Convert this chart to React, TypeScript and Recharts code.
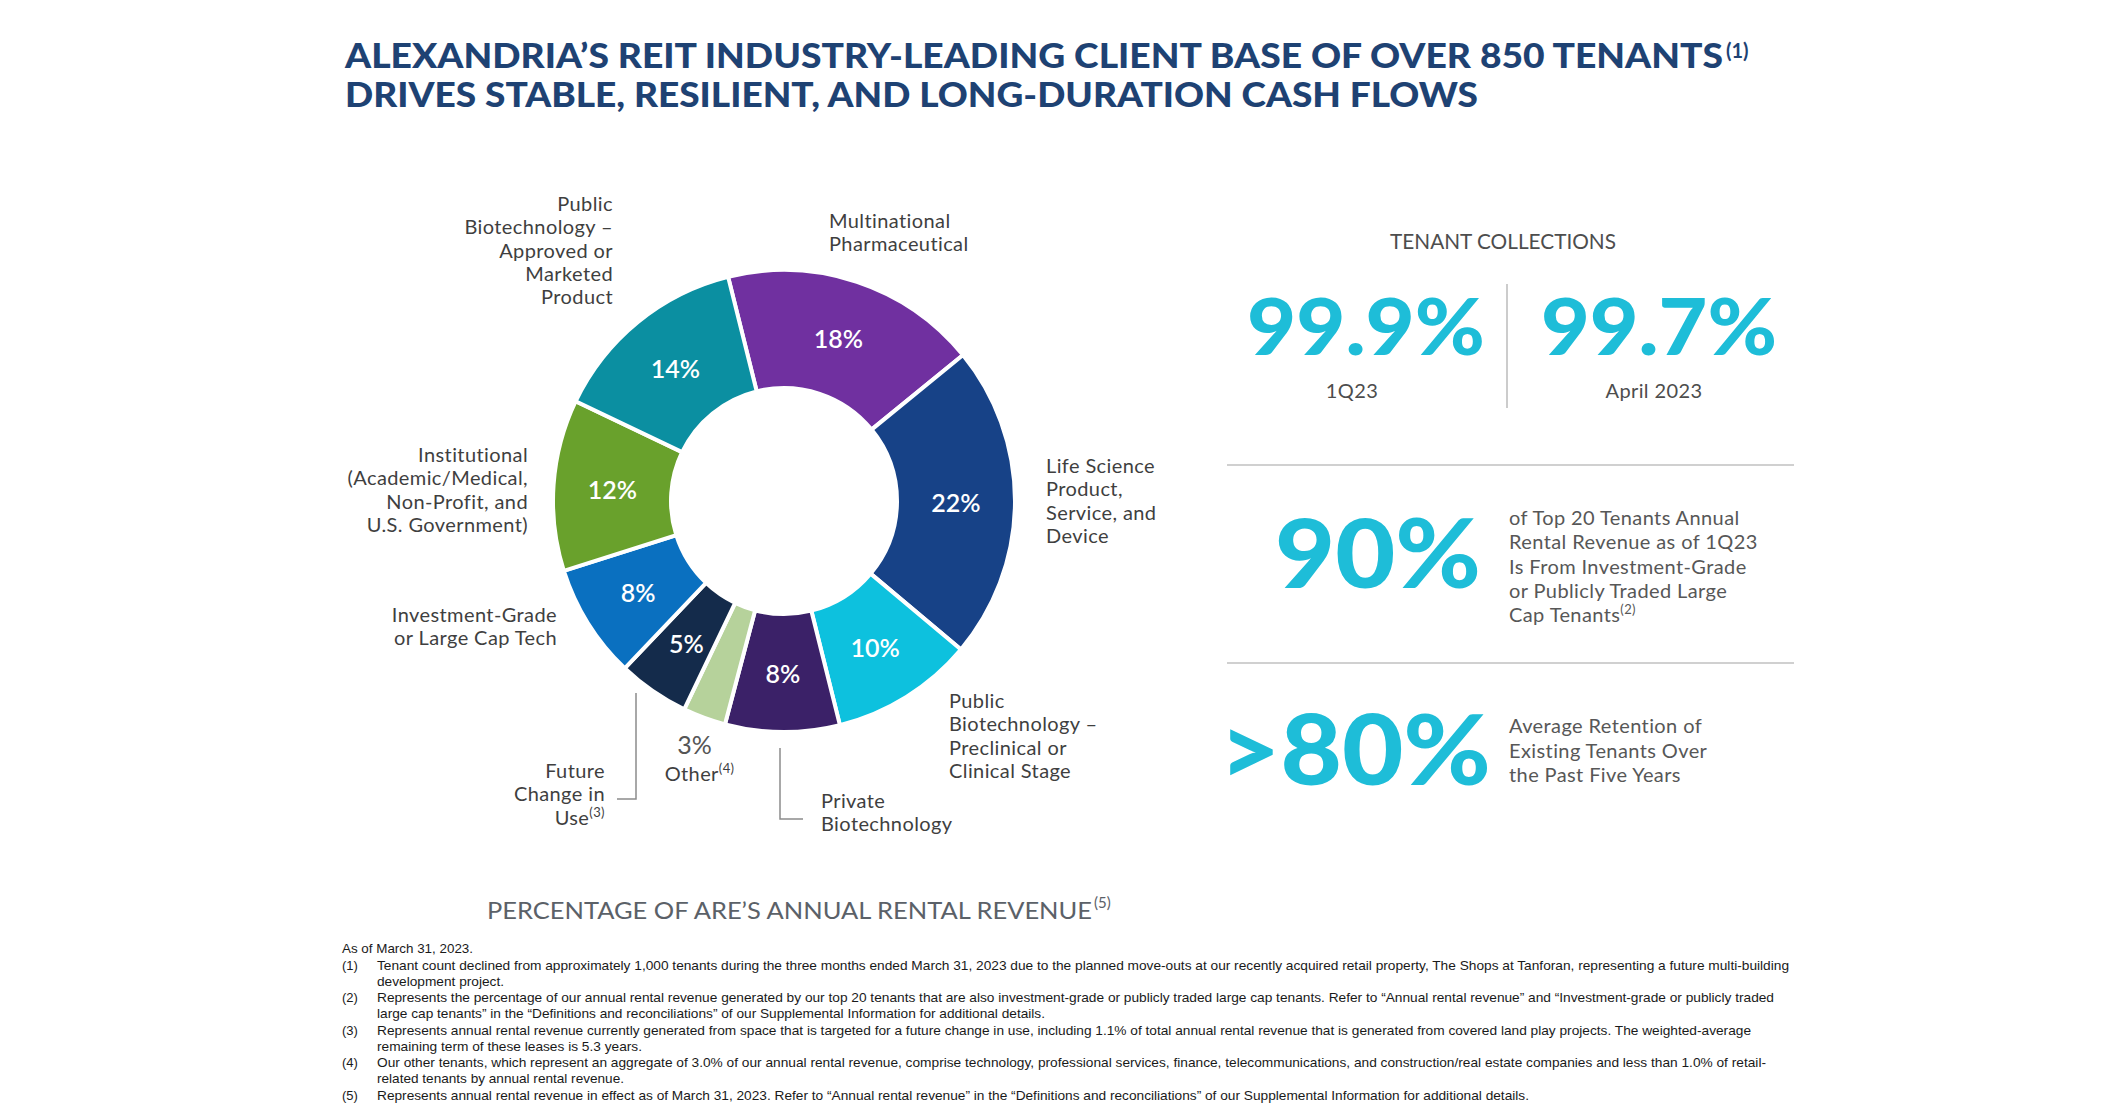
import React from "react";
import { PieChart, Pie, Cell } from "recharts";

// share of annual rental revenue, clockwise from the top
const segments = [
  "Multinational Pharmaceutical",
  "Life Science Product, Service, and Device",
  "Public Biotechnology – Preclinical or Clinical Stage",
  "Private Biotechnology",
  "Other",
  "Future Change in Use",
  "Investment-Grade or Large Cap Tech",
  "Institutional (Academic/Medical, Non-Profit, and U.S. Government)",
  "Public Biotechnology – Approved or Marketed Product",
];
const shares = [18, 22, 10, 8, 3, 5, 8, 12, 14];
const segmentColors = [
  "#7030A0",
  "#174287",
  "#0DC1DE",
  "#3B2168",
  "#B6D29B",
  "#142B4B",
  "#0A70C0",
  "#69A12C",
  "#0B8FA1",
];

const collectionRates = ["99.9%", "99.7%"];
const collectionPeriods = ["1Q23", "April 2023"];

const highlightValues = ["90%", ">80%"];
const highlightNotes = [
  ["of Top 20 Tenants Annual", "Rental Revenue as of 1Q23", "Is From Investment-Grade", "or Publicly Traded Large", "Cap Tenants"],
  ["Average Retention of", "Existing Tenants Over", "the Past Five Years"],
];

const footnotes = [
  { n: "(1)", lines: ["Tenant count declined from approximately 1,000 tenants during the three months ended March 31, 2023 due to the planned move-outs at our recently acquired retail property, The Shops at Tanforan, representing a future multi-building", "development project."] },
  { n: "(2)", lines: ["Represents the percentage of our annual rental revenue generated by our top 20 tenants that are also investment-grade or publicly traded large cap tenants. Refer to “Annual rental revenue” and “Investment-grade or publicly traded", "large cap tenants” in the “Definitions and reconciliations” of our Supplemental Information for additional details."] },
  { n: "(3)", lines: ["Represents annual rental revenue currently generated from space that is targeted for a future change in use, including 1.1% of total annual rental revenue that is generated from covered land play projects. The weighted-average", "remaining term of these leases is 5.3 years."] },
  { n: "(4)", lines: ["Our other tenants, which represent an aggregate of 3.0% of our annual rental revenue, comprise technology, professional services, finance, telecommunications, and construction/real estate companies and less than 1.0% of retail-", "related tenants by annual rental revenue."] },
  { n: "(5)", lines: ["Represents annual rental revenue in effect as of March 31, 2023. Refer to “Annual rental revenue” in the “Definitions and reconciliations” of our Supplemental Information for additional details."] },
];
const footnoteWidths = [[1412, 127], [1397, 668], [1374, 265], [1389, 247], [1152]];

const OTHER = 4;
const RAD = Math.PI / 180;
const SANS = "Lato, 'Noto Sans', sans-serif";
const LABEL_GREY = "#3f3f3f";
const CYAN = "#1EBDD8";
const NAVY = "#1E4273";

const data = segments.map((name, i) => ({ name, value: shares[i] }));

// where each category name sits round the ring
const nameBlocks = [
  { anchor: "start", x: 829, y: 228, lines: ["Multinational", "Pharmaceutical"] },
  { anchor: "start", x: 1046, y: 473, lines: ["Life Science", "Product,", "Service, and", "Device"] },
  { anchor: "start", x: 949, y: 708, lines: ["Public", "Biotechnology –", "Preclinical or", "Clinical Stage"] },
  { anchor: "start", x: 821, y: 808, lines: ["Private", "Biotechnology"] },
  { anchor: "end", x: 605, y: 778, lines: ["Future", "Change in", "Use"], sup: "(3)" },
  { anchor: "end", x: 557, y: 622, lines: ["Investment-Grade", "or Large Cap Tech"] },
  { anchor: "end", x: 528, y: 462, lines: ["Institutional", "(Academic/Medical,", "Non-Profit, and", "U.S. Government)"] },
  { anchor: "end", x: 613, y: 211, lines: ["Public", "Biotechnology –", "Approved or", "Marketed", "Product"] },
];

function SliceLabel(props: any) {
  const { cx, cy, midAngle, innerRadius, outerRadius, index, value } = props;
  if (index === OTHER) {
    const r = outerRadius + 28;
    const x = cx + r * Math.cos(-midAngle * RAD);
    const y = cy + r * Math.sin(-midAngle * RAD);
    return (
      <g>
        <text x={x} y={y} textAnchor="middle" dominantBaseline="central" fill="#555" fontSize={25} fontFamily={SANS}>
          {value}%
        </text>
        <text x={x + 5} y={y + 37} textAnchor="middle" fill={LABEL_GREY} fontSize={20} fontFamily={SANS} letterSpacing={0.4}>
          Other
          <tspan dy={-8} fontSize={13}>(4)</tspan>
        </text>
      </g>
    );
  }
  const r = (innerRadius + outerRadius) / 2;
  const x = cx + r * Math.cos(-midAngle * RAD);
  const y = cy + r * Math.sin(-midAngle * RAD);
  return (
    <text x={x} y={y} textAnchor="middle" dominantBaseline="central" fill="#fff" fontSize={25} fontWeight={600} fontFamily={SANS}>
      {value}%
    </text>
  );
}

function Overlay() {
  return (
    <svg width={2123} height={1112} style={{ position: "absolute", left: 0, top: 0 }}>
      {/* title */}
      <g fill={NAVY} fontFamily={SANS} fontWeight={900} fontSize={34}>
        <text x={345} y={68} textLength={1378} lengthAdjust="spacingAndGlyphs">
          ALEXANDRIA’S REIT INDUSTRY-LEADING CLIENT BASE OF OVER 850 TENANTS
        </text>
        <text x={1726} y={58} fontSize={20} fontWeight={700}>(1)</text>
        <text x={345} y={107} textLength={1133} lengthAdjust="spacingAndGlyphs">
          DRIVES STABLE, RESILIENT, AND LONG-DURATION CASH FLOWS
        </text>
      </g>

      {/* category names */}
      <g fill={LABEL_GREY} fontFamily={SANS} fontSize={20} letterSpacing={0.4}>
        {nameBlocks.map((b, i) => (
          <text key={i} textAnchor={b.anchor as any}>
            {b.lines.map((l, j) => (
              <tspan key={j} x={b.x} y={b.y + j * 23.3}>
                {l}
                {b.sup && j === b.lines.length - 1 ? (
                  <tspan dy={-8} fontSize={13}>{b.sup}</tspan>
                ) : null}
              </tspan>
            ))}
          </text>
        ))}
      </g>
      <g stroke="#8c8c8c" strokeWidth={1.5} fill="none">
        <polyline points="636,693 636,799 617,799" />
        <polyline points="780,748 780,819 803,819" />
      </g>

      {/* tenant collections */}
      <text x={1503} y={249} textAnchor="middle" fill="#4d4d4d" fontFamily={SANS} fontSize={21} textLength={226} lengthAdjust="spacingAndGlyphs">
        TENANT COLLECTIONS
      </text>
      <g fill={CYAN} fontFamily={SANS} fontWeight={900} fontSize={78}>
        <text x={1247} y={355} textLength={238} lengthAdjust="spacingAndGlyphs">{collectionRates[0]}</text>
        <text x={1541} y={355} textLength={236} lengthAdjust="spacingAndGlyphs">{collectionRates[1]}</text>
      </g>
      <g fill="#4d4d4d" fontFamily={SANS} fontSize={20} textAnchor="middle" letterSpacing={0.4}>
        <text x={1352} y={398}>{collectionPeriods[0]}</text>
        <text x={1654} y={398}>{collectionPeriods[1]}</text>
      </g>
      <line x1={1507} y1={284} x2={1507} y2={408} stroke="#cccccc" strokeWidth={2} />
      <line x1={1227} y1={465} x2={1794} y2={465} stroke="#d0d0d0" strokeWidth={2} />
      <line x1={1227} y1={663} x2={1794} y2={663} stroke="#d0d0d0" strokeWidth={2} />

      <g fill={CYAN} fontFamily={SANS} fontWeight={900}>
        <text x={1275} y={588} fontSize={95} textLength={206} lengthAdjust="spacingAndGlyphs">{highlightValues[0]}</text>
        <text x={1219} y={785} fontSize={97} textLength={272} lengthAdjust="spacingAndGlyphs">{highlightValues[1]}</text>
      </g>
      <g fill="#575757" fontFamily={SANS} fontSize={20} letterSpacing={0.4}>
        <text>
          {highlightNotes[0].map((l, j) => (
            <tspan key={j} x={1509} y={525 + j * 24.3}>
              {l}
              {j === highlightNotes[0].length - 1 ? <tspan dy={-8} fontSize={13}>(2)</tspan> : null}
            </tspan>
          ))}
        </text>
        <text>
          {highlightNotes[1].map((l, j) => (
            <tspan key={j} x={1509} y={733 + j * 24.5}>{l}</tspan>
          ))}
        </text>
      </g>

      {/* chart caption */}
      <text x={487} y={919} fill="#5b6168" fontFamily={SANS} fontSize={24} textLength={605} lengthAdjust="spacingAndGlyphs">
        PERCENTAGE OF ARE’S ANNUAL RENTAL REVENUE
      </text>
      <text x={1094} y={908} fill="#5b6168" fontFamily={SANS} fontSize={15}>(5)</text>

      {/* footnotes */}
      <g fill="#1a1a1a" fontFamily="'Liberation Sans', Arial, sans-serif" fontSize={13}>
        <text x={342} y={953} textLength={131} lengthAdjust="spacingAndGlyphs">As of March 31, 2023.</text>
        {footnotes.map((f, i) => {
          const y0 = 970 + i * 32.4;
          return (
            <g key={f.n}>
              <text x={342} y={y0}>{f.n}</text>
              {f.lines.map((l, j) => (
                <text key={j} x={377} y={y0 + j * 15.8} textLength={footnoteWidths[i][j]} lengthAdjust="spacingAndGlyphs">
                  {l}
                </text>
              ))}
            </g>
          );
        })}
      </g>
    </svg>
  );
}

export default function App() {
  return (
    <div style={{ position: "absolute", left: 0, top: 0, width: 2123, height: 1112, background: "#fff", overflow: "hidden" }}>
      <Overlay />
      <div style={{ position: "absolute", left: 464, top: 181 }}>
        <PieChart width={640} height={640} margin={{ top: 0, right: 0, bottom: 0, left: 0 }}>
          <Pie
            data={data}
            dataKey="value"
            nameKey="name"
            cx="50%"
            cy="50%"
            innerRadius={113}
            outerRadius={231}
            startAngle={104}
            endAngle={-256}
            stroke="#fff"
            strokeWidth={4}
            label={SliceLabel}
            labelLine={false}
            isAnimationActive={false}
          >
            {data.map((d, i) => (
              <Cell key={d.name} fill={segmentColors[i]} />
            ))}
          </Pie>
        </PieChart>
      </div>
    </div>
  );
}
